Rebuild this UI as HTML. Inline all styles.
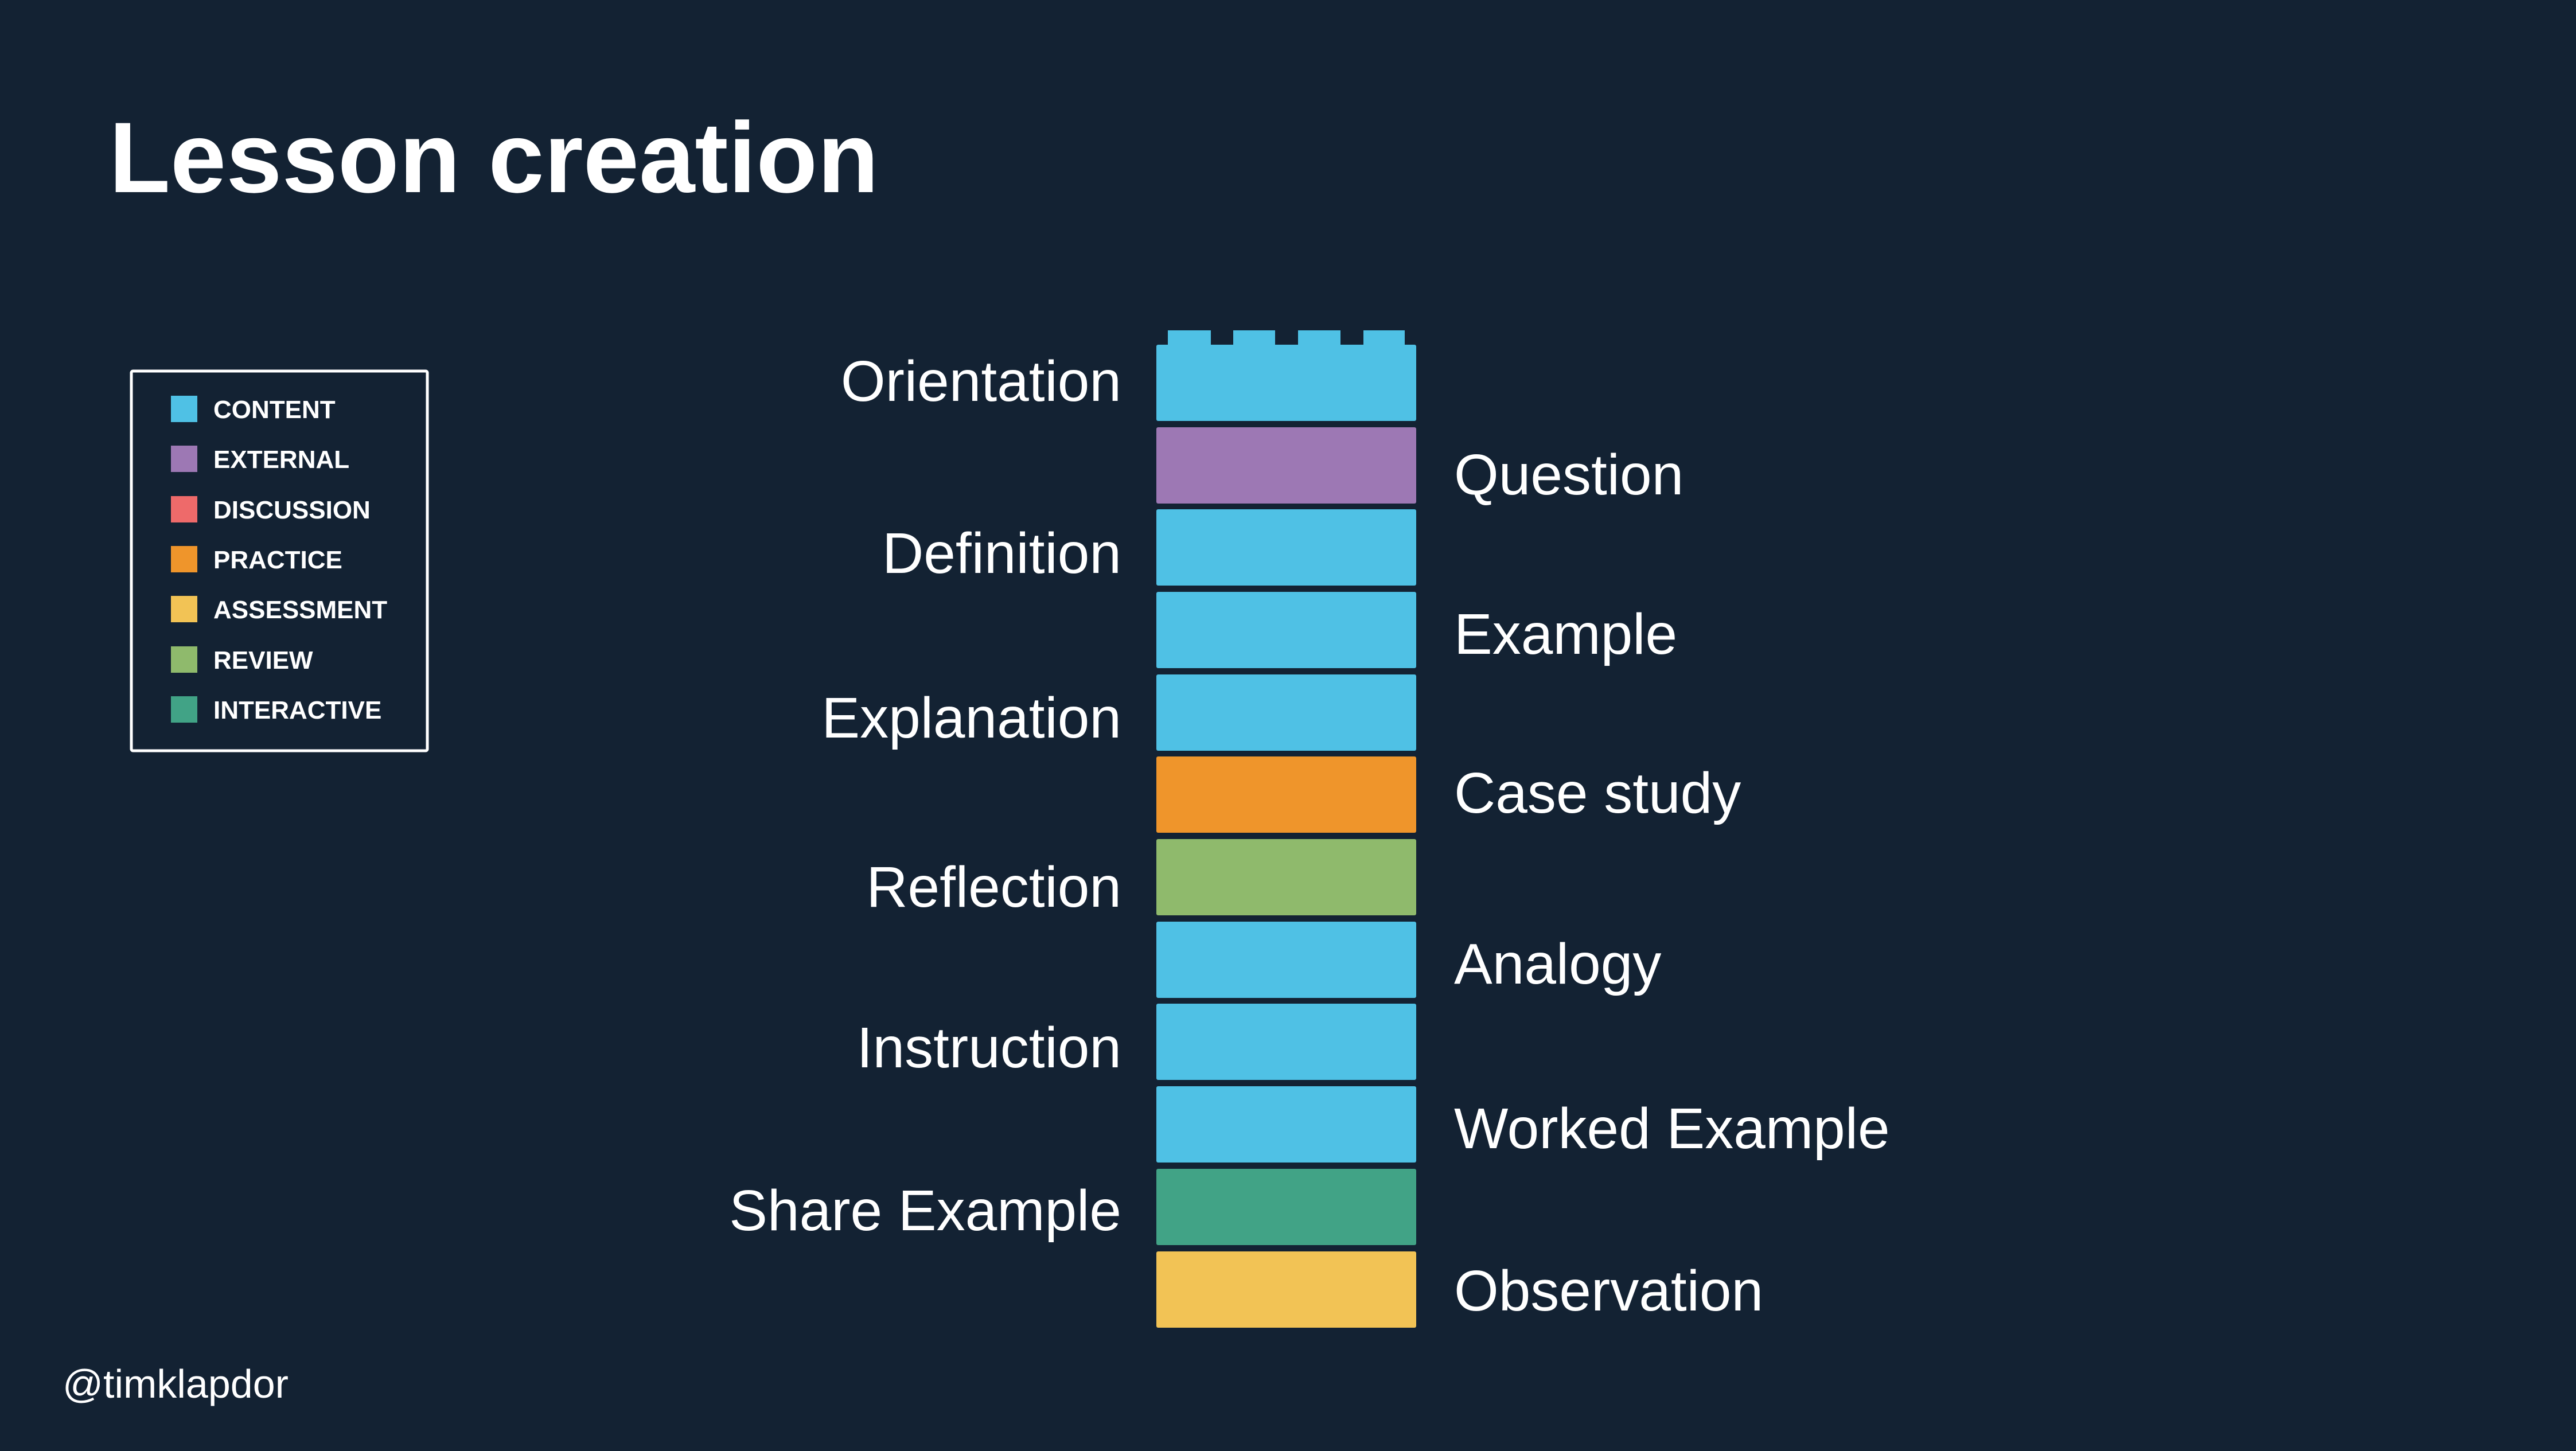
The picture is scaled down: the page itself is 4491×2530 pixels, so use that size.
<!DOCTYPE html>
<html><head><meta charset="utf-8"><style>
html,body{margin:0;padding:0;background:#132233;}
svg{display:block;}
text{font-family:"Liberation Sans",Arial,sans-serif;fill:#fff;}
</style></head><body>
<svg width="4491" height="2530" viewBox="0 0 4491 2530" xmlns="http://www.w3.org/2000/svg">
<rect width="4491" height="2530" fill="#132233"/>
<text x="190" y="335" font-size="175" font-weight="bold">Lesson creation</text>

<rect x="229" y="647" width="516" height="662" fill="none" stroke="#fff" stroke-width="5" rx="3"/>
<g font-size="44" font-weight="bold">
<rect x="298" y="690" width="46" height="46" fill="#4FC1E5"/><text x="372" y="729">CONTENT</text>
<rect x="298" y="777" width="46" height="46" fill="#9D78B4"/><text x="372" y="816">EXTERNAL</text>
<rect x="298" y="865" width="46" height="46" fill="#EE6A6A"/><text x="372" y="904">DISCUSSION</text>
<rect x="298" y="952" width="46" height="46" fill="#EF952B"/><text x="372" y="991">PRACTICE</text>
<rect x="298" y="1039" width="46" height="46" fill="#F2C355"/><text x="372" y="1078">ASSESSMENT</text>
<rect x="298" y="1127" width="46" height="46" fill="#8FBA6C"/><text x="372" y="1166">REVIEW</text>
<rect x="298" y="1214" width="46" height="46" fill="#41A386"/><text x="372" y="1253">INTERACTIVE</text>
</g>

<g fill="#4FC1E5">
<rect x="2036" y="576" width="75" height="30"/>
<rect x="2150" y="576" width="73" height="30"/>
<rect x="2263" y="576" width="74" height="30"/>
<rect x="2377" y="576" width="72" height="30"/>
</g>
<g>
<rect x="2016" y="601" width="453" height="133" rx="3" fill="#4FC1E5"/>
<rect x="2016" y="745" width="453" height="133" rx="3" fill="#9D78B4"/>
<rect x="2016" y="888" width="453" height="133" rx="3" fill="#4FC1E5"/>
<rect x="2016" y="1032" width="453" height="133" rx="3" fill="#4FC1E5"/>
<rect x="2016" y="1176" width="453" height="133" rx="3" fill="#4FC1E5"/>
<rect x="2016" y="1319" width="453" height="133" rx="3" fill="#EF952B"/>
<rect x="2016" y="1463" width="453" height="133" rx="3" fill="#8FBA6C"/>
<rect x="2016" y="1607" width="453" height="133" rx="3" fill="#4FC1E5"/>
<rect x="2016" y="1750" width="453" height="133" rx="3" fill="#4FC1E5"/>
<rect x="2016" y="1894" width="453" height="133" rx="3" fill="#4FC1E5"/>
<rect x="2016" y="2038" width="453" height="133" rx="3" fill="#41A386"/>
<rect x="2016" y="2182" width="453" height="133" rx="3" fill="#F2C355"/>
</g>

<g font-size="100" text-anchor="end">
<text x="1955" y="699">Orientation</text>
<text x="1955" y="999">Definition</text>
<text x="1955" y="1286">Explanation</text>
<text x="1955" y="1581">Reflection</text>
<text x="1955" y="1861">Instruction</text>
<text x="1955" y="2145">Share Example</text>
</g>
<g font-size="100">
<text x="2535" y="862">Question</text>
<text x="2535" y="1140">Example</text>
<text x="2535" y="1417">Case study</text>
<text x="2535" y="1715">Analogy</text>
<text x="2535" y="2002">Worked Example</text>
<text x="2535" y="2285">Observation</text>
</g>
<text x="109" y="2437" font-size="70">@timklapdor</text>
</svg>
</body></html>
